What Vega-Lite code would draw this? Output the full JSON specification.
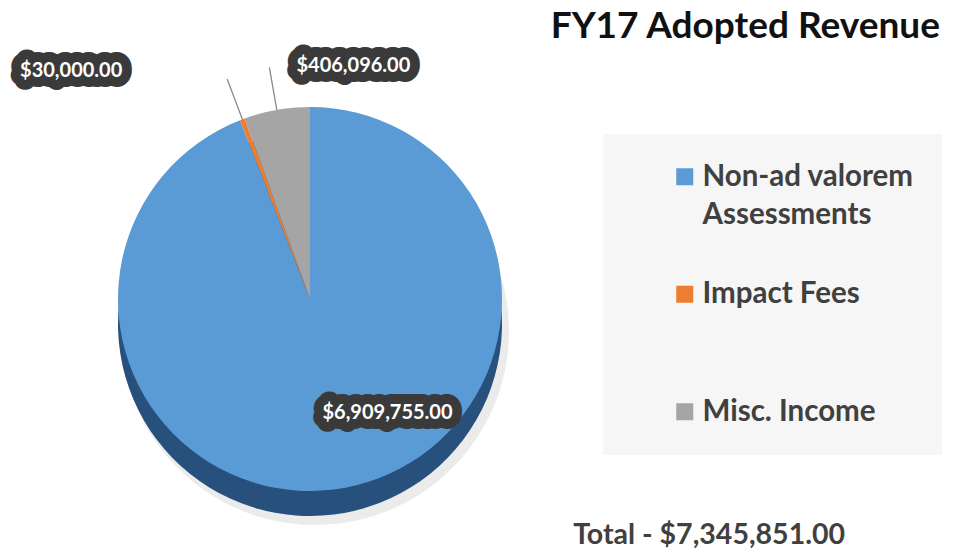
{
  "$schema": "https://vega.github.io/schema/vega-lite/v6.json",
  "padding": {"top": 7, "left": 0, "right": 0, "bottom": 0},
  "background": "white",
  "title": {"text": "FY17 Adopted Revenue", "anchor": "end", "frame": "group", "dx": -40, "offset": 4, "font": "Lato", "fontSize": 37, "fontWeight": "bold", "color": "#111111"},
  "data": {"values": [
    {"category": "Non-ad valorem Assessments", "value": 6909755},
    {"category": "Impact Fees", "value": 30000},
    {"category": "Misc. Income", "value": 406096}
  ]},
  "vconcat": [
    {
      "width": 980,
      "height": 470,
      "title": {"text": "Total - $7,345,851.00", "orient": "bottom", "anchor": "end", "frame": "group", "dx": -135, "offset": -17, "font": "Lato", "fontSize": 28.5, "fontWeight": "bold", "color": "#404040"},
      "transform": [{"window": [{"op": "row_number", "as": "idx"}]}],
      "encoding": {
        "theta": {"field": "value", "type": "quantitative", "stack": true},
        "order": {"field": "idx", "type": "quantitative"}
      },
      "layer": [
        {"mark": {"type": "arc", "radius": 194, "xOffset": -175, "yOffset": 43, "color": "#ebebeb"}},
        {"mark": {"type": "arc", "radius": 192, "xOffset": -180, "yOffset": 36, "color": "#27507d"}},
        {
          "mark": {"type": "arc", "radius": 192, "xOffset": -180, "yOffset": 11},
          "encoding": {
            "color": {
              "field": "category", "type": "nominal",
              "scale": {"domain": ["Non-ad valorem Assessments", "Impact Fees", "Misc. Income"], "range": ["#5b9bd5", "#ed7d31", "#a5a5a5"]},
              "legend": {
                "orient": "none", "legendX": 603, "legendY": 81, "title": null,
                "fillColor": "#f6f6f6", "padding": 28, "symbolOffset": 39,
                "symbolType": "square", "symbolSize": 289, "symbolStrokeWidth": 0,
                "labelFont": "Lato", "labelFontSize": 29.5, "labelFontWeight": "bold", "labelColor": "#404040",
                "labelOffset": 3, "rowPadding": 48.5, "labelLimit": 400, "labelBaseline": "middle",
                "labelExpr": "datum.label === 'Non-ad valorem Assessments' ? ['Non-ad valorem', 'Assessments'] : datum.label === 'Impact Fees' ? ['Impact Fees', ''] : datum.label"
              }
            }
          }
        },
        {
          "mark": {"type": "arc", "radius": 235, "radius2": 192, "padAngle": 0.6, "xOffset": -180, "yOffset": 11, "filled": false, "stroke": "#8a8a8a", "strokeWidth": 1.3},
          "encoding": {"strokeOpacity": {"condition": {"test": "datum.category === 'Non-ad valorem Assessments'", "value": 0}, "value": 1}}
        },
        {
          "mark": {"type": "text", "radius": 235, "xOffset": -180, "yOffset": 11, "dx": 84, "dy": -2, "font": "Lato", "fontSize": 20, "fontWeight": "bold", "fill": "#3a3a3a", "stroke": "#3a3a3a", "strokeWidth": 20, "strokeJoin": "round", "align": "center", "baseline": "middle"},
          "encoding": {"text": {"field": "value", "type": "quantitative", "format": "$,.2f"}, "opacity": {"condition": {"test": "datum.category === 'Misc. Income'", "value": 1}, "value": 0}}
        },
        {
          "mark": {"type": "text", "radius": 235, "xOffset": -180, "yOffset": 11, "dx": -156, "dy": -8, "font": "Lato", "fontSize": 20, "fontWeight": "bold", "fill": "#3a3a3a", "stroke": "#3a3a3a", "strokeWidth": 20, "strokeJoin": "round", "align": "center", "baseline": "middle"},
          "encoding": {"text": {"field": "value", "type": "quantitative", "format": "$,.2f"}, "opacity": {"condition": {"test": "datum.category === 'Impact Fees'", "value": 1}, "value": 0}}
        },
        {
          "mark": {"type": "text", "radius": 116, "xOffset": -180, "yOffset": 11, "dx": 56, "dy": 0, "font": "Lato", "fontSize": 20, "fontWeight": "bold", "fill": "#3a3a3a", "stroke": "#3a3a3a", "strokeWidth": 20, "strokeJoin": "round", "align": "center", "baseline": "middle"},
          "encoding": {"text": {"field": "value", "type": "quantitative", "format": "$,.2f"}, "opacity": {"condition": {"test": "datum.category === 'Non-ad valorem Assessments'", "value": 1}, "value": 0}}
        },
        {
          "mark": {"type": "text", "radius": 235, "xOffset": -180, "yOffset": 11, "dx": 84, "dy": -2, "font": "Lato", "fontSize": 20, "fontWeight": "bold", "fill": "#ffffff", "align": "center", "baseline": "middle"},
          "encoding": {"text": {"field": "value", "type": "quantitative", "format": "$,.2f"}, "opacity": {"condition": {"test": "datum.category === 'Misc. Income'", "value": 1}, "value": 0}}
        },
        {
          "mark": {"type": "text", "radius": 235, "xOffset": -180, "yOffset": 11, "dx": -156, "dy": -8, "font": "Lato", "fontSize": 20, "fontWeight": "bold", "fill": "#ffffff", "align": "center", "baseline": "middle"},
          "encoding": {"text": {"field": "value", "type": "quantitative", "format": "$,.2f"}, "opacity": {"condition": {"test": "datum.category === 'Impact Fees'", "value": 1}, "value": 0}}
        },
        {
          "mark": {"type": "text", "radius": 116, "xOffset": -180, "yOffset": 11, "dx": 56, "dy": 0, "font": "Lato", "fontSize": 20, "fontWeight": "bold", "fill": "#ffffff", "align": "center", "baseline": "middle"},
          "encoding": {"text": {"field": "value", "type": "quantitative", "format": "$,.2f"}, "opacity": {"condition": {"test": "datum.category === 'Non-ad valorem Assessments'", "value": 1}, "value": 0}}
        }
      ]
    }
  ],
  "config": {"view": {"stroke": null}, "style": {"guide-label": {"lineHeight": 38}}}
}
